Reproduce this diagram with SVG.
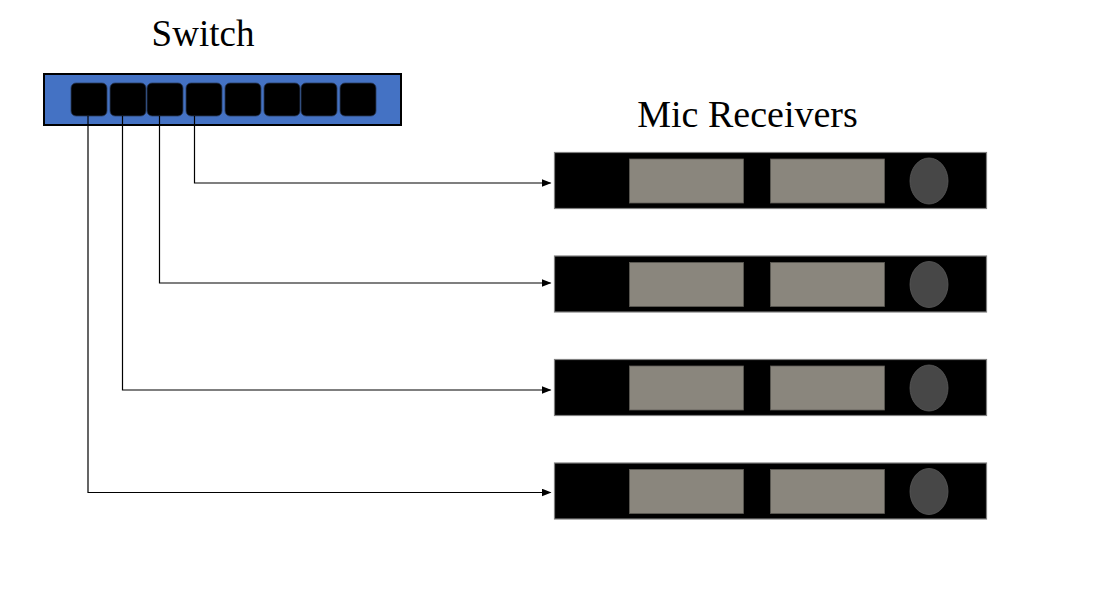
<svg xmlns="http://www.w3.org/2000/svg" width="1099" height="590" viewBox="0 0 1099 590">
<style>
.lbl{font-family:"Liberation Serif","Times New Roman",serif;font-size:37px;fill:#000;text-anchor:middle}
.port{fill:#000;stroke:#2a3a5a;stroke-width:0.8}
.rx{fill:#000;stroke:#7f7f7f;stroke-width:1.2}
.disp{fill:#8a867d;stroke:#5e5b55;stroke-width:0.8}
.knob{fill:#474747;stroke:#5a5a5a;stroke-width:0.8}
.wire{fill:none;stroke:#000;stroke-width:1.2}
</style>
<defs>
<marker id="ah" markerWidth="10" markerHeight="8" refX="9" refY="4" orient="auto" markerUnits="userSpaceOnUse">
<path d="M0,0 L10,4 L0,8 Z" fill="#000"/>
</marker>
</defs>
<rect width="1099" height="590" fill="#fff"/>
<g id="switch">
<text class="lbl" x="203" y="46">Switch</text>
<rect x="44" y="74" width="357" height="51" fill="#4472c4" stroke="#000" stroke-width="2"/>
<rect class="port" x="71" y="83" width="36" height="33" rx="5"/>
<rect class="port" x="110" y="83" width="36" height="33" rx="5"/>
<rect class="port" x="147" y="83" width="36" height="33" rx="5"/>
<rect class="port" x="186" y="83" width="36" height="33" rx="5"/>
<rect class="port" x="225" y="83" width="36" height="33" rx="5"/>
<rect class="port" x="264" y="83" width="36" height="33" rx="5"/>
<rect class="port" x="301" y="83" width="36" height="33" rx="5"/>
<rect class="port" x="340" y="83" width="36" height="33" rx="5"/>
</g>
<text class="lbl" x="747.5" y="127" style="font-size:38px">Mic Receivers</text>
<g id="receiver1">
<rect class="rx" x="554.5" y="152.5" width="432" height="56"/>
<rect class="disp" x="629.5" y="159" width="114" height="44"/>
<rect class="disp" x="770.5" y="159" width="114" height="44"/>
<ellipse class="knob" cx="929" cy="181" rx="19" ry="23"/>
</g>
<g id="receiver2">
<rect class="rx" x="554.5" y="256" width="432" height="56"/>
<rect class="disp" x="629.5" y="262.5" width="114" height="44"/>
<rect class="disp" x="770.5" y="262.5" width="114" height="44"/>
<ellipse class="knob" cx="929" cy="284.5" rx="19" ry="23"/>
</g>
<g id="receiver3">
<rect class="rx" x="554.5" y="359.5" width="432" height="56"/>
<rect class="disp" x="629.5" y="366" width="114" height="44"/>
<rect class="disp" x="770.5" y="366" width="114" height="44"/>
<ellipse class="knob" cx="929" cy="388" rx="19" ry="23"/>
</g>
<g id="receiver4">
<rect class="rx" x="554.5" y="463" width="432" height="56"/>
<rect class="disp" x="629.5" y="469.5" width="114" height="44"/>
<rect class="disp" x="770.5" y="469.5" width="114" height="44"/>
<ellipse class="knob" cx="929" cy="491.5" rx="19" ry="23"/>
</g>
<g id="connectors">
<path class="wire" d="M194.5,116 V183 H550.5" marker-end="url(#ah)"/>
<path class="wire" d="M159.5,116 V283 H550.5" marker-end="url(#ah)"/>
<path class="wire" d="M122.5,116 V390 H550.5" marker-end="url(#ah)"/>
<path class="wire" d="M88,116 V492.5 H550.5" marker-end="url(#ah)"/>
</g>
</svg>
